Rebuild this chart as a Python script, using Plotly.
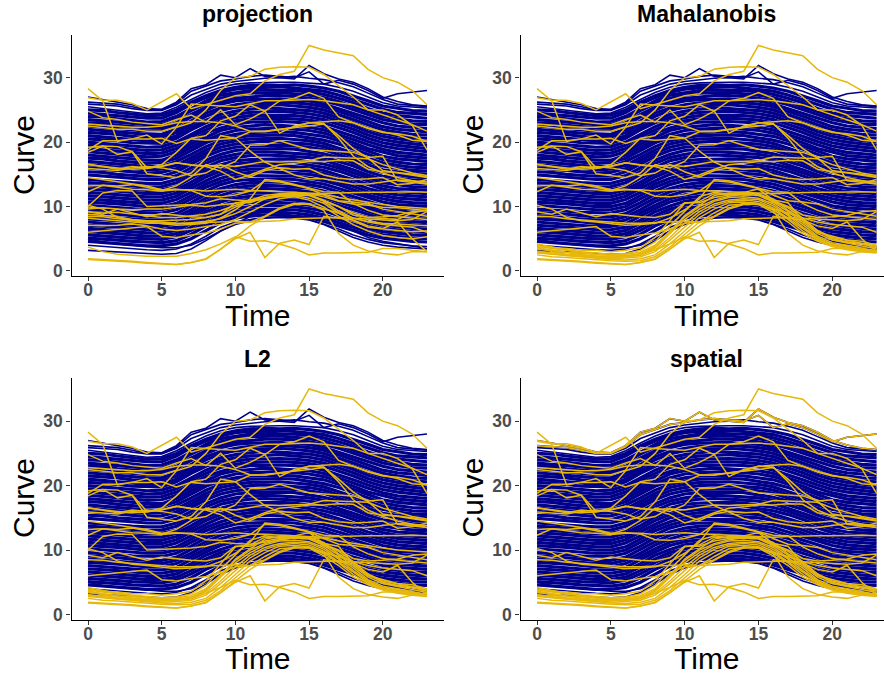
import plotly.graph_objects as go
from plotly.subplots import make_subplots

hours = list(range(24))
panel_names = ["projection", "Mahalanobis", "L2", "spatial"]
x_title = "Time"
y_title = "Curve"
x_ticks = [0, 5, 10, 15, 20]
y_ticks = [0, 10, 20, 30]

blue_curves = [
[27.0,26.6,26.3,25.8,25.2,25.1,26.2,28.3,28.9,30.4,30.0,31.4,30.2,30.0,29.8,31.9,30.6,29.8,29.3,28.3,27.0,26.3,25.8,25.6],
[26.2,26.0,25.9,25.5,25.0,25.0,26.0,27.9,28.7,29.5,29.8,30.2,30.4,30.2,30.0,30.9,29.0,29.6,29.0,28.0,26.8,27.5,27.8,28.0],
[25.9,25.7,25.6,25.2,24.9,24.9,25.8,27.3,28.2,29.0,29.4,29.7,29.9,30.0,30.2,29.9,29.7,29.2,28.6,27.6,26.6,25.9,25.7,25.5],
[25.5,25.2,25.0,24.7,24.4,24.5,25.4,26.6,27.7,28.5,29.0,29.2,29.3,29.3,29.3,29.2,29.0,28.5,27.9,27.0,26.1,25.6,25.4,25.3],
[25.0,24.9,24.6,24.3,24.1,24.2,25.0,26.2,27.2,28.0,28.5,28.8,28.9,28.8,28.9,28.7,28.4,27.9,27.2,26.4,25.6,25.2,24.9,24.8],
[24.5,24.3,24.1,23.9,23.7,23.7,24.6,25.9,26.9,27.7,28.2,28.4,28.5,28.6,28.4,28.2,27.9,27.3,26.6,25.9,25.1,24.6,24.4,24.3],
[24.0,23.9,23.6,23.3,23.1,23.2,24.0,25.2,26.4,27.3,27.7,28.0,28.1,28.1,28.0,27.8,27.4,26.8,26.1,25.2,24.5,24.1,23.9,23.7],
[23.5,23.3,23.2,22.9,22.7,22.7,23.6,24.9,26.0,26.8,27.3,27.6,27.6,27.7,27.5,27.3,26.9,26.3,25.5,24.7,24.0,23.6,23.3,23.2],
[23.0,22.9,22.6,22.4,22.2,22.2,23.0,24.3,25.4,26.3,26.8,27.0,27.2,27.2,27.1,26.8,26.4,25.8,25.0,24.2,23.5,23.1,22.8,22.7],
[22.5,22.3,22.1,21.9,21.7,21.8,22.6,23.9,25.0,25.9,26.4,26.6,26.7,26.7,26.5,26.4,25.9,25.2,24.5,23.7,23.0,22.5,22.3,22.1],
[22.0,21.8,21.6,21.4,21.2,21.2,22.0,23.3,24.5,25.3,25.8,26.1,26.2,26.2,26.1,25.9,25.5,24.8,24.0,23.2,22.4,22.0,21.8,21.6],
[21.5,21.4,21.2,20.9,20.7,20.8,21.5,22.8,24.0,24.9,25.4,25.6,25.7,25.8,25.6,25.4,25.0,24.3,23.5,22.7,21.9,21.5,21.2,21.1],
[21.0,20.8,20.6,20.4,20.2,20.3,21.0,22.3,23.4,24.3,24.8,25.1,25.3,25.2,25.1,24.9,24.5,23.8,23.0,22.1,21.4,21.0,20.7,20.6],
[20.5,20.4,20.2,19.9,19.8,19.8,20.6,21.9,23.0,23.8,24.3,24.6,24.7,24.8,24.6,24.4,24.0,23.3,22.5,21.6,20.9,20.5,20.2,20.0],
[20.0,19.8,19.7,19.4,19.2,19.3,20.0,21.2,22.4,23.3,23.8,24.1,24.2,24.2,24.1,23.9,23.5,22.8,22.0,21.1,20.4,20.0,19.7,19.5],
[19.5,19.4,19.1,18.9,18.7,18.8,19.5,20.8,21.9,22.8,23.3,23.6,23.7,23.7,23.6,23.4,23.0,22.3,21.5,20.6,19.9,19.5,19.2,19.0],
[19.0,18.8,18.6,18.4,18.2,18.3,19.0,20.2,21.4,22.2,22.8,23.1,23.2,23.2,23.1,22.9,22.4,21.7,20.9,20.1,19.4,19.0,18.7,18.5],
[18.5,18.3,18.1,17.9,17.7,17.8,18.5,19.7,20.8,21.8,22.3,22.5,22.7,22.6,22.5,22.3,21.9,21.2,20.4,19.6,18.9,18.4,18.2,18.0],
[18.0,17.8,17.6,17.4,17.2,17.2,18.0,19.2,20.3,21.2,21.8,22.0,22.1,22.2,22.0,21.8,21.4,20.7,19.9,19.0,18.4,17.9,17.7,17.5],
[17.5,17.4,17.1,16.9,16.7,16.8,17.5,18.7,19.9,20.7,21.2,21.5,21.6,21.6,21.5,21.2,20.9,20.2,19.4,18.5,17.8,17.4,17.2,17.0],
[17.0,16.8,16.6,16.4,16.2,16.2,17.0,18.1,19.3,20.2,20.7,21.0,21.1,21.1,21.0,20.7,20.3,19.7,18.9,18.0,17.3,16.9,16.6,16.5],
[16.5,16.3,16.1,15.9,15.7,15.8,16.4,17.6,18.8,19.7,20.2,20.5,20.6,20.6,20.4,20.2,19.8,19.1,18.3,17.5,16.8,16.4,16.1,16.0],
[16.0,15.8,15.6,15.4,15.2,15.3,15.9,17.1,18.3,19.2,19.7,20.0,20.1,20.0,19.9,19.7,19.3,18.6,17.8,17.0,16.3,15.9,15.6,15.5],
[15.4,15.3,15.0,14.8,14.7,14.7,15.4,16.6,17.8,18.7,19.2,19.4,19.5,19.5,19.4,19.2,18.8,18.1,17.3,16.5,15.7,15.4,15.2,15.0],
[14.9,14.7,14.6,14.3,14.2,14.2,14.8,16.0,17.2,18.1,18.7,18.9,19.0,19.0,18.9,18.6,18.2,17.6,16.8,15.9,15.3,14.9,14.6,14.5],
[14.2,14.0,13.9,13.7,13.6,13.6,14.2,15.4,16.7,17.6,18.1,18.4,18.5,18.4,18.3,18.1,17.7,17.0,16.3,15.4,14.7,14.4,14.1,14.0],
[13.7,13.6,13.4,13.2,13.0,13.1,13.7,14.9,16.1,17.1,17.6,17.9,18.0,17.9,17.8,17.6,17.2,16.5,15.7,14.9,14.2,13.9,13.6,13.5],
[13.2,13.0,12.9,12.7,12.5,12.6,13.1,14.4,15.6,16.5,17.1,17.3,17.4,17.4,17.3,17.0,16.6,16.0,15.2,14.4,13.7,13.4,13.1,13.0],
[12.7,12.6,12.4,12.2,12.0,12.0,12.6,13.8,15.1,16.0,16.6,16.8,16.9,16.9,16.8,16.5,16.1,15.5,14.7,13.9,13.2,12.8,12.6,12.5],
[12.2,12.0,11.9,11.7,11.5,11.5,12.1,13.3,14.6,15.5,16.0,16.3,16.4,16.4,16.2,16.0,15.6,14.9,14.2,13.4,12.7,12.3,12.1,12.0],
[11.7,11.5,11.4,11.2,11.0,11.0,11.6,12.8,14.0,15.0,15.5,15.8,15.9,15.9,15.7,15.5,15.1,14.4,13.6,12.8,12.2,11.8,11.6,11.5],
[11.2,11.0,10.9,10.7,10.5,10.5,11.1,12.2,13.5,14.4,15.0,15.3,15.4,15.3,15.2,15.0,14.6,13.9,13.1,12.3,11.7,11.3,11.1,11.0],
[10.7,10.6,10.4,10.2,10.0,10.0,10.5,11.7,13.0,13.9,14.5,14.8,14.8,14.8,14.7,14.4,14.0,13.4,12.6,11.8,11.2,10.8,10.6,10.5],
[10.2,10.0,9.8,9.7,9.5,9.5,10.0,11.2,12.4,13.4,14.0,14.2,14.3,14.3,14.2,13.9,13.5,12.8,12.1,11.3,10.7,10.3,10.1,10.0],
[9.6,9.5,9.3,9.1,9.0,9.0,9.5,10.6,11.9,12.8,13.4,13.7,13.8,13.8,13.6,13.4,13.0,12.3,11.5,10.8,10.1,9.8,9.6,9.5],
[9.1,9.0,8.8,8.6,8.4,8.4,8.9,10.1,11.3,12.3,12.9,13.2,13.3,13.2,13.1,12.9,12.4,11.8,11.0,10.2,9.6,9.3,9.1,9.0],
[8.6,8.4,8.3,8.1,7.9,7.9,8.4,9.5,10.8,11.7,12.4,12.7,12.8,12.7,12.6,12.3,11.9,11.2,10.5,9.7,9.1,8.8,8.6,8.5],
[8.1,8.0,7.8,7.6,7.4,7.4,7.9,9.0,10.2,11.2,11.8,12.1,12.2,12.2,12.1,11.8,11.4,10.7,10.0,9.2,8.6,8.3,8.1,8.0],
[7.6,7.4,7.3,7.1,6.9,6.9,7.3,8.5,9.7,10.7,11.3,11.6,11.7,11.7,11.5,11.3,10.9,10.2,9.5,8.7,8.1,7.8,7.6,7.5],
[7.1,7.0,6.8,6.6,6.4,6.4,6.8,7.9,9.2,10.1,10.8,11.1,11.2,11.2,11.0,10.8,10.3,9.7,8.9,8.2,7.6,7.3,7.1,7.0],
[6.6,6.4,6.3,6.1,5.9,5.9,6.3,7.4,8.6,9.6,10.2,10.6,10.7,10.6,10.5,10.2,9.8,9.1,8.4,7.6,7.1,6.8,6.6,6.5],
[6.1,6.0,5.8,5.6,5.4,5.4,5.8,6.8,8.1,9.1,9.7,10.0,10.2,10.1,10.0,9.7,9.3,8.6,7.9,7.1,6.6,6.3,6.1,6.0],
[5.6,5.4,5.3,5.1,5.0,4.9,5.3,6.3,7.5,8.6,9.2,9.5,9.6,9.6,9.5,9.2,8.7,8.0,7.3,6.6,6.1,5.8,5.6,5.5],
[5.1,5.0,4.8,4.6,4.5,4.4,4.7,5.7,7.0,8.0,8.7,9.0,9.2,9.1,9.0,8.7,8.2,7.5,6.8,6.1,5.6,5.3,5.1,5.0],
[4.6,4.4,4.3,4.1,3.9,3.9,4.2,5.0,6.3,7.5,8.2,8.6,8.7,8.7,8.5,8.3,7.7,7.0,6.2,5.6,5.1,4.8,4.6,4.5],
[5.0,4.5,4.2,4.0,3.8,3.6,3.6,4.0,5.0,6.2,7.4,8.4,8.6,8.6,8.4,8.3,8.2,7.5,6.2,5.2,4.6,4.2,3.8,3.5],
[4.0,3.8,3.7,3.5,3.3,3.2,3.4,4.2,5.4,6.8,7.6,8.0,8.3,8.4,8.3,8.0,7.3,6.5,5.6,4.9,4.4,4.1,3.9,3.8],
[3.2,3.1,2.9,2.8,2.7,2.6,2.7,3.4,4.7,6.2,7.2,7.8,8.2,8.3,8.2,7.9,7.2,6.2,5.2,4.5,4.0,3.7,3.5,3.4],
]

gold_curves = [
[26.9,26.5,26.5,26.0,25.0,26.3,27.5,25.2,25.8,26.5,27.2,27.5,29.5,30.5,31.0,35.0,34.3,33.9,33.4,31.3,30.0,29.3,28.0,25.8],
[28.3,26.4,20.1,20.5,21.1,19.7,22.3,23.0,25.0,28.0,30.0,30.2,31.3,31.6,31.7,31.6,30.5,28.8,27.0,25.0,25.0,24.2,22.6,18.8],
[22.8,22.6,22.4,22.3,22.3,22.5,23.0,23.2,23.2,23.0,22.5,21.7,21.6,21.9,22.3,23.0,23.1,23.3,23.0,22.2,21.6,21.1,20.3,20.1],
[22.5,22.3,22.0,22.0,21.7,21.7,22.4,25.9,25.7,25.6,25.5,26.0,26.4,26.4,26.5,26.6,26.4,26.1,25.8,25.0,24.2,23.5,22.7,21.7],
[18.4,19.4,19.3,18.5,16.0,16.2,16.8,16.4,16.2,15.5,14.2,14.9,15.8,16.5,16.7,17.0,17.0,17.2,17.1,15.8,15.4,15.3,15.0,14.6],
[19.2,19.4,18.1,18.5,15.1,14.8,14.5,15.2,17.5,21.0,20.6,18.6,16.9,15.9,14.9,14.3,14.3,13.9,13.5,13.5,13.8,14.1,14.0,13.8],
[18.8,20.2,20.2,20.5,20.5,20.6,19.8,20.5,20.3,20.5,20.6,21.6,21.7,22.0,22.2,22.5,22.8,21.0,19.0,17.5,15.6,15.2,14.8,14.5],
[16.6,16.2,15.8,16.2,16.0,16.5,18.4,20.6,21.0,23.3,24.0,25.8,24.8,21.4,22.5,23.0,22.9,20.6,17.8,16.2,15.2,14.5,14.0,13.5],
[24.8,23.8,23.5,23.1,22.9,22.7,23.5,24.2,23.1,25.0,22.7,23.6,24.8,26.4,26.8,27.7,26.8,23.9,23.0,22.1,21.5,21.3,20.9,20.1],
[13.2,13.3,13.2,13.4,13.0,12.5,13.2,14.6,16.5,16.0,17.0,19.5,19.6,20.2,19.5,18.9,18.7,18.5,18.4,17.6,17.8,14.0,13.8,13.5],
[12.3,13.3,13.0,12.7,12.6,12.4,12.6,12.6,12.4,12.5,12.7,12.5,12.4,12.3,12.1,12.0,12.0,12.1,12.2,12.2,12.2,12.3,12.3,12.2],
[14.5,14.2,13.9,13.5,13.2,12.6,12.7,12.5,11.6,11.5,11.8,12.4,14.0,13.8,13.3,12.8,11.8,10.9,10.7,10.4,9.6,9.2,8.8,8.5],
[16.5,16.2,16.0,15.8,15.9,16.3,16.8,16.5,16.3,16.4,16.2,16.6,17.0,16.9,17.0,17.1,17.7,17.6,17.6,17.4,16.5,15.8,15.2,14.8],
[1.8,1.7,1.6,1.4,1.2,1.1,1.0,1.3,1.8,3.4,5.0,6.0,2.1,4.3,4.8,4.1,8.5,8.2,7.9,7.0,6.6,7.6,5.0,3.0],
[3.7,3.0,2.6,2.4,2.3,2.3,2.3,2.7,3.3,4.2,5.3,4.6,4.7,4.2,3.5,2.5,2.8,2.8,2.9,2.9,3.5,3.5,3.2,3.0],
[10.2,9.6,8.3,7.8,7.6,7.3,7.1,7.2,7.4,8.2,9.5,11.2,14.2,14.0,13.4,12.8,12.3,12.2,10.5,9.4,8.7,8.4,8.2,8.0],
[8.5,8.4,8.1,7.9,7.7,7.5,7.4,7.4,7.5,7.6,7.7,7.6,7.7,7.8,8.1,8.2,8.2,8.3,8.2,8.1,7.9,7.8,8.0,9.2],
[6.0,6.2,6.5,6.7,6.9,5.4,5.2,5.6,5.9,6.5,7.4,7.6,8.5,9.8,10.5,10.3,9.7,9.0,8.2,7.6,7.2,7.0,6.8,6.0],
[15.9,15.7,15.6,16.0,16.2,16.0,15.6,14.8,15.2,16.5,15.4,14.6,15.6,16.0,15.8,15.9,14.9,14.4,14.2,14.3,14.5,13.4,13.6,14.2],
[9.2,8.8,9.6,9.0,8.4,8.9,8.6,8.4,8.3,8.8,10.6,10.6,11.4,11.8,12.0,11.9,10.9,10.0,8.7,8.3,8.4,8.6,9.2,9.4],
[10.0,12.1,12.5,12.4,10.0,10.1,10.2,10.3,10.6,11.2,11.0,10.9,11.2,11.6,11.9,11.8,11.9,11.4,11.0,10.6,10.3,10.0,9.8,9.7],
[9.6,9.8,9.6,9.5,9.6,9.6,9.9,10.2,10.0,10.2,10.5,11.0,11.4,11.8,12.1,12.0,11.5,10.8,10.4,10.2,9.9,9.8,9.6,9.4],
[9.2,9.0,9.1,8.8,8.6,8.3,8.3,8.5,8.8,9.4,10.2,10.8,11.2,11.6,11.6,11.8,11.0,10.0,9.0,8.3,8.2,8.0,9.0,9.5],
[8.8,8.6,8.4,8.0,7.8,7.8,7.9,8.0,8.3,8.8,9.9,11.0,11.7,12.0,12.0,11.7,10.8,9.3,8.2,7.7,7.4,7.3,7.1,7.0],
[8.2,8.0,7.8,7.6,7.4,7.4,7.3,7.5,7.7,8.1,8.9,10.0,11.2,11.9,11.7,11.3,10.5,9.0,7.8,6.8,6.5,6.3,6.1,6.2],
[7.1,7.0,7.1,7.3,7.0,6.5,6.3,6.5,6.9,7.2,8.0,9.2,10.3,11.2,11.5,11.0,9.9,8.5,7.2,6.2,5.5,5.2,5.0,5.3],
[4.2,3.7,3.3,3.0,2.8,2.6,2.6,2.9,4.0,6.2,8.4,10.0,11.0,11.6,11.9,11.7,10.7,9.2,7.5,5.8,4.8,4.3,3.9,3.4],
[3.8,3.5,3.1,2.9,2.6,2.4,2.4,2.6,3.6,5.8,8.0,9.6,10.8,11.4,11.5,11.3,10.4,8.8,7.2,5.4,4.4,4.0,3.6,3.1],
[3.4,3.1,2.8,2.6,2.3,2.2,2.2,2.4,3.3,5.2,7.4,9.2,10.4,11.0,11.2,11.1,10.1,8.6,6.8,5.2,4.2,3.8,3.4,3.0],
[3.1,2.8,2.5,2.4,2.1,1.9,2.0,2.2,3.0,4.8,6.8,8.8,10.1,10.8,11.0,10.8,9.8,8.2,6.5,5.0,4.0,3.7,3.3,2.9],
[2.8,2.6,2.4,2.2,1.9,1.8,1.7,1.9,2.5,4.2,6.2,8.3,9.6,10.6,10.7,10.5,9.5,8.0,6.2,4.8,3.9,3.5,3.1,2.9],
[2.5,2.2,2.1,1.9,1.7,1.6,1.5,1.6,2.2,3.7,5.7,7.6,9.0,10.2,10.4,10.3,9.1,7.6,5.8,4.6,3.8,3.3,3.0,2.8],
[4.0,3.6,3.5,3.2,3.2,3.0,3.2,3.6,5.2,7.8,10.5,10.8,12.0,11.9,12.2,12.7,11.0,10.6,7.8,6.0,5.4,4.8,4.6,4.0],
[3.6,3.2,2.9,2.8,2.5,2.6,2.7,3.2,4.5,7.0,9.2,11.5,12.2,11.9,11.8,11.9,11.2,9.4,8.0,6.3,5.2,4.8,4.3,3.8],
[3.0,2.7,2.4,2.3,2.1,2.1,2.2,2.6,3.8,6.0,8.6,10.2,11.7,12.1,12.0,12.0,10.8,9.8,8.2,6.2,5.0,4.5,4.2,3.6],
[1.9,1.8,1.7,1.5,1.3,1.2,1.0,1.3,1.9,3.4,5.2,7.0,8.4,9.6,10.3,10.4,9.4,5.8,4.0,3.1,2.7,2.5,3.0,3.0],
[26.2,26.0,25.9,25.5,25.0,25.0,26.0,27.9,28.7,29.5,29.8,30.2,30.4,30.2,30.0,30.9,29.0,29.6,29.0,28.0,26.8,27.5,27.8,28.0],
[27.0,26.6,26.3,25.8,25.2,25.1,26.2,28.3,28.9,30.4,30.0,31.4,30.2,30.0,29.8,31.9,30.6,29.8,29.3,28.3,27.0,26.3,25.8,25.6],
]

shared_gold = list(range(0, 20))
flat_gold = [20, 21, 22, 23, 24, 25]
dome_gold = list(range(26, 36))
panel_gold = {
    "projection": shared_gold + flat_gold + [35],
    "Mahalanobis": shared_gold + dome_gold,
    "L2": shared_gold + dome_gold + [20],
    "spatial": shared_gold + dome_gold + [36, 37],
}

W, H = 884, 675
fig = make_subplots(rows=2, cols=2, horizontal_spacing=0.05, vertical_spacing=0.1)
BLUE, GOLD = "#00008B", "#E6B80B"
n_blue = len(blue_curves)

for i, name in enumerate(panel_names):
    r, c = i // 2 + 1, i % 2 + 1
    for j, y in enumerate(blue_curves):
        edge = j < 4 or j >= n_blue - 3
        fig.add_trace(go.Scatter(x=hours, y=y, mode="lines", showlegend=False, hoverinfo="skip",
                                 line=dict(color=BLUE, width=1.6 if edge else 3.2)), row=r, col=c)
    for k in panel_gold[name]:
        fig.add_trace(go.Scatter(x=hours, y=gold_curves[k], mode="lines", showlegend=False, hoverinfo="skip",
                                 line=dict(color=GOLD, width=1.5)), row=r, col=c)

x_px = [[71.5, 443.5], [520.5, 884.0]]
y_px = [[34.5, 276.0], [378.0, 619.5]]
x_dom = [[a / W, b / W] for a, b in x_px]
y_dom = [[1 - b / H, 1 - a / H] for a, b in y_px]
x_rng = [[-1.12, 24.12], [-1.12, 23.5]]
tick_font = dict(family="Liberation Sans", size=17.5, color="#4D4D4D", weight="bold")
axis_font = dict(family="Liberation Sans", size=30, color="black")
x_centre = [257.5, 706.5]
y_centre = [155.0, 498.0]
y_title_x = [23.0, 471.5]
x_title_y = [315.0, 658.5]
title_y = [14.0, 358.5]

for i, name in enumerate(panel_names):
    r, c = i // 2 + 1, i % 2 + 1
    fig.update_xaxes(row=r, col=c, domain=x_dom[c - 1], range=x_rng[c - 1], tickvals=x_ticks, automargin=False,
                     showgrid=False, zeroline=False, showline=True, linecolor="black", linewidth=1.4,
                     ticks="outside", ticklen=4, tickwidth=1.2, tickcolor="#333333", tickfont=tick_font,
                     ticklabelstandoff=-6)
    fig.update_yaxes(row=r, col=c, domain=y_dom[r - 1], range=[-0.78, 36.7], tickvals=y_ticks, automargin=False,
                     showgrid=False, zeroline=False, showline=True, linecolor="black", linewidth=1.4,
                     ticks="outside", ticklen=4, tickwidth=1.2, tickcolor="#333333", tickfont=tick_font)
    fig.add_annotation(xref="paper", yref="paper", x=x_centre[c - 1] / W, y=1 - title_y[r - 1] / H,
                       xanchor="center", yanchor="middle", showarrow=False, text=f"<b>{name}</b>",
                       font=dict(family="Liberation Sans", size=23, color="black"))
    fig.add_annotation(xref="paper", yref="paper", x=x_centre[c - 1] / W, y=1 - x_title_y[r - 1] / H,
                       xanchor="center", yanchor="middle", showarrow=False, text=x_title, font=axis_font)
    fig.add_annotation(xref="paper", yref="paper", x=y_title_x[c - 1] / W, y=1 - y_centre[r - 1] / H,
                       xanchor="center", yanchor="middle", showarrow=False, text=y_title, textangle=-90,
                       font=axis_font)

fig.update_layout(width=W, height=H, margin=dict(l=0, r=0, t=0, b=0),
                  plot_bgcolor="white", paper_bgcolor="white", showlegend=False)
fig.write_html("out.html", post_script="document.body.style.margin='0';",
               config={"displayModeBar": False})
